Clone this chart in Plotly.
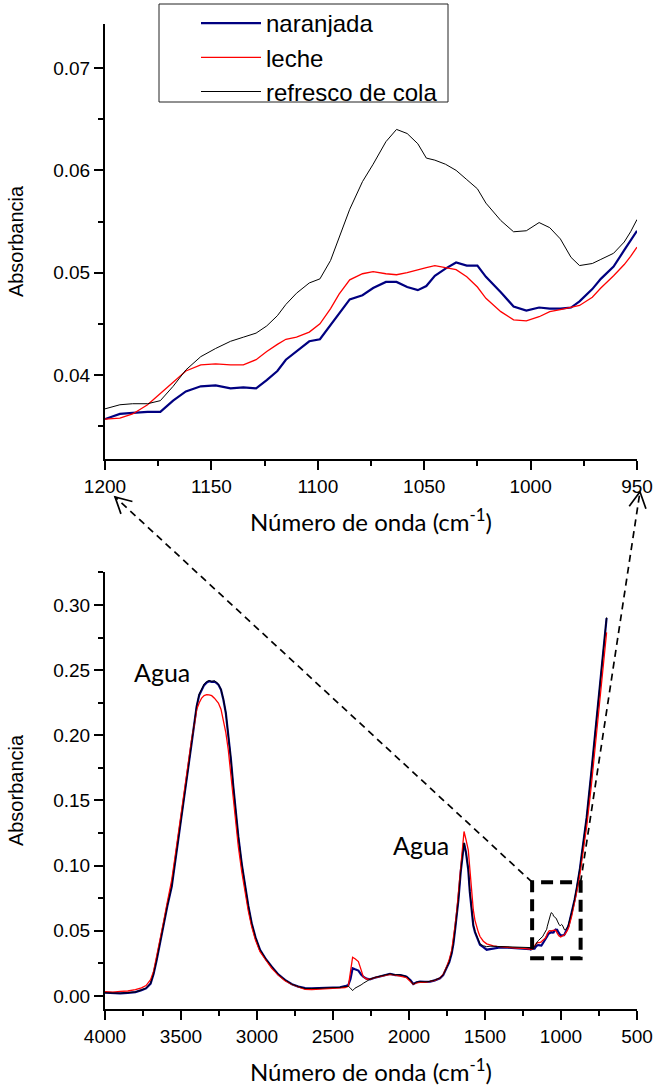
import math
import plotly.graph_objects as go

# ---------------------------------------------------------------------------
# FTIR spectra: naranjada, leche, refresco de cola
# ---------------------------------------------------------------------------

# Detail region 1200-950 cm-1 (upper panel, also part of the full spectrum)
wn_detail = [1200, 1193, 1187, 1180, 1174, 1168, 1162, 1155, 1148, 1141, 1135,
             1129, 1124, 1119, 1115, 1110, 1104, 1099, 1094, 1090, 1085, 1079,
             1074, 1068, 1063, 1058, 1053, 1049, 1045, 1040, 1035, 1030, 1025,
             1021, 1014, 1008, 1002, 996, 991, 986, 981, 977, 971, 967, 961,
             956, 953, 950]
naranjada_detail = [0.0357, 0.0362, 0.0363, 0.0364, 0.0364, 0.0375, 0.0384, 0.0389,
                    0.0390, 0.0387, 0.0388, 0.0387, 0.0395, 0.0404, 0.0415, 0.0423,
                    0.0433, 0.0435, 0.0449, 0.0461, 0.0474, 0.0478, 0.0485, 0.0491,
                    0.0491, 0.0486, 0.0483, 0.0487, 0.0497, 0.0504, 0.0510, 0.0507,
                    0.0507, 0.0496, 0.0481, 0.0467, 0.0463, 0.0466, 0.0465, 0.0465,
                    0.0466, 0.0472, 0.0484, 0.0494, 0.0506, 0.0522, 0.0531, 0.0541]
leche_detail = [0.0357, 0.0358, 0.0362, 0.0371, 0.0382, 0.0393, 0.0404, 0.0410,
                0.0411, 0.0410, 0.0410, 0.0415, 0.0423, 0.0430, 0.0435, 0.0437,
                0.0442, 0.0450, 0.0465, 0.0479, 0.0493, 0.0499, 0.0501, 0.0499,
                0.0498, 0.0500, 0.0503, 0.0505, 0.0507, 0.0505, 0.0503, 0.0496,
                0.0486, 0.0475, 0.0462, 0.0454, 0.0453, 0.0457, 0.0462, 0.0464,
                0.0466, 0.0468, 0.0476, 0.0485, 0.0497, 0.0508, 0.0516, 0.0525]
cola_detail = [0.0367, 0.0371, 0.0372, 0.0372, 0.0375, 0.0389, 0.0405, 0.0418,
               0.0426, 0.0433, 0.0437, 0.0441, 0.0448, 0.0458, 0.0469, 0.0480,
               0.0490, 0.0494, 0.0512, 0.0535, 0.0562, 0.0589, 0.0606, 0.0628,
               0.0640, 0.0636, 0.0626, 0.0612, 0.0610, 0.0606, 0.0600, 0.0591,
               0.0582, 0.0568, 0.0551, 0.0540, 0.0541, 0.0549, 0.0544, 0.0533,
               0.0515, 0.0507, 0.0509, 0.0513, 0.0519, 0.0530, 0.0540, 0.0552]

# Full spectrum above the detail region (4000-1204 cm-1)
wn_high = [4000, 3950, 3900, 3850, 3800, 3760, 3730, 3700, 3680, 3660, 3640, 3616,
           3590, 3561, 3540, 3518, 3496, 3474, 3452, 3430, 3410, 3397, 3380, 3364,
           3348, 3331, 3315, 3298, 3280, 3265, 3254, 3237, 3221, 3205, 3189, 3172,
           3156, 3140, 3123, 3100, 3079, 3057, 3035, 3010, 2980, 2940, 2903, 2860,
           2816, 2770, 2728, 2684, 2640, 2586, 2540, 2490, 2454, 2420, 2399, 2385,
           2371, 2355, 2333, 2315, 2301, 2280, 2257, 2225, 2191, 2160, 2125, 2090,
           2059, 2030, 2016, 1990, 1972, 1950, 1928, 1895, 1862, 1830, 1796, 1775,
           1752, 1735, 1719, 1708, 1697, 1686, 1675, 1660, 1650, 1638, 1625, 1610,
           1600, 1588, 1577, 1566, 1555, 1544, 1533, 1511, 1489, 1467, 1445, 1420,
           1401, 1350, 1292, 1250, 1204]
naranjada_high = [0.0025, 0.0022, 0.0020, 0.0024, 0.0030, 0.0045, 0.0058, 0.0095,
                  0.0170, 0.0276, 0.0400, 0.0532, 0.0690, 0.0840, 0.1010, 0.1198,
                  0.1375, 0.1557, 0.1750, 0.1941, 0.2110, 0.2222, 0.2310, 0.2350,
                  0.2385, 0.2406, 0.2415, 0.2410, 0.2412, 0.2400, 0.2389, 0.2350,
                  0.2273, 0.2170, 0.2018, 0.1820, 0.1608, 0.1410, 0.1224, 0.1010,
                  0.0840, 0.0690, 0.0558, 0.0450, 0.0353, 0.0280, 0.0225, 0.0165,
                  0.0123, 0.0090, 0.0072, 0.0060, 0.0058, 0.0059, 0.0063, 0.0061,
                  0.0067, 0.0075, 0.0084, 0.0130, 0.0213, 0.0205, 0.0195, 0.0165,
                  0.0148, 0.0133, 0.0128, 0.0140, 0.0148, 0.0155, 0.0169, 0.0160,
                  0.0161, 0.0152, 0.0148, 0.0120, 0.0092, 0.0105, 0.0110, 0.0108,
                  0.0110, 0.0120, 0.0136, 0.0160, 0.0212, 0.0260, 0.0328, 0.0400,
                  0.0507, 0.0610, 0.0737, 0.0950, 0.1080, 0.1173, 0.1100, 0.0968,
                  0.0800, 0.0637, 0.0540, 0.0490, 0.0456, 0.0420, 0.0392, 0.0375,
                  0.0355, 0.0360, 0.0365, 0.0370, 0.0372, 0.0370, 0.0368, 0.0365,
                  0.0360]
leche_high = [0.0033, 0.0030, 0.0035, 0.0038, 0.0048, 0.0062, 0.0080, 0.0125,
              0.0190, 0.0300, 0.0430, 0.0560, 0.0720, 0.0891, 0.1060, 0.1250,
              0.1430, 0.1610, 0.1790, 0.1970, 0.2100, 0.2197, 0.2250, 0.2286,
              0.2305, 0.2312, 0.2310, 0.2304, 0.2285, 0.2265, 0.2248, 0.2200,
              0.2120, 0.2020, 0.1889, 0.1700, 0.1505, 0.1320, 0.1147, 0.0950,
              0.0789, 0.0650, 0.0533, 0.0430, 0.0340, 0.0270, 0.0212, 0.0160,
              0.0118, 0.0088, 0.0072, 0.0051, 0.0048, 0.0052, 0.0055, 0.0058,
              0.0060, 0.0065, 0.0075, 0.0180, 0.0297, 0.0285, 0.0264, 0.0200,
              0.0148, 0.0130, 0.0128, 0.0140, 0.0150, 0.0158, 0.0165, 0.0160,
              0.0155, 0.0145, 0.0140, 0.0110, 0.0090, 0.0100, 0.0105, 0.0105,
              0.0110, 0.0120, 0.0138, 0.0165, 0.0225, 0.0280, 0.0350, 0.0430,
              0.0540, 0.0650, 0.0790, 0.1000, 0.1150, 0.1262, 0.1200, 0.1120,
              0.0980, 0.0820, 0.0660, 0.0580, 0.0530, 0.0490, 0.0456, 0.0420,
              0.0400, 0.0390, 0.0385, 0.0380, 0.0379, 0.0372, 0.0368, 0.0365,
              0.0358]
cola_high = [0.0025, 0.0023, 0.0021, 0.0025, 0.0031, 0.0046, 0.0060, 0.0096,
             0.0172, 0.0278, 0.0402, 0.0534, 0.0692, 0.0842, 0.1012, 0.1200,
             0.1378, 0.1560, 0.1752, 0.1944, 0.2114, 0.2226, 0.2316, 0.2356,
             0.2392, 0.2412, 0.2420, 0.2414, 0.2418, 0.2405, 0.2393, 0.2354,
             0.2277, 0.2174, 0.2022, 0.1824, 0.1612, 0.1414, 0.1228, 0.1014,
             0.0844, 0.0692, 0.0560, 0.0452, 0.0355, 0.0281, 0.0226, 0.0166,
             0.0124, 0.0090, 0.0072, 0.0058, 0.0057, 0.0058, 0.0062, 0.0060,
             0.0066, 0.0072, 0.0075, 0.0060, 0.0041, 0.0060, 0.0072, 0.0085,
             0.0097, 0.0115, 0.0128, 0.0142, 0.0150, 0.0158, 0.0170, 0.0162,
             0.0163, 0.0154, 0.0150, 0.0118, 0.0090, 0.0106, 0.0110, 0.0108,
             0.0112, 0.0122, 0.0138, 0.0162, 0.0214, 0.0262, 0.0330, 0.0402,
             0.0508, 0.0612, 0.0738, 0.0952, 0.1082, 0.1175, 0.1102, 0.0970,
             0.0802, 0.0640, 0.0545, 0.0495, 0.0462, 0.0428, 0.0400, 0.0385,
             0.0378, 0.0382, 0.0383, 0.0380, 0.0379, 0.0376, 0.0373, 0.0370,
             0.0368]

# Full spectrum below the detail region (930-700 cm-1)
wn_low = [930, 910, 897, 885, 875, 864, 853, 831, 800, 776, 750, 725, 700]
naranjada_low = [0.0630, 0.0740, 0.0820, 0.0900, 0.0980, 0.1080, 0.1180, 0.1370,
                 0.1720, 0.2000, 0.2300, 0.2600, 0.2900]
leche_low = [0.0610, 0.0715, 0.0790, 0.0865, 0.0940, 0.1030, 0.1120, 0.1300,
             0.1620, 0.1900, 0.2180, 0.2480, 0.2790]
cola_low = [0.0640, 0.0745, 0.0825, 0.0905, 0.0985, 0.1085, 0.1185, 0.1375,
            0.1725, 0.2005, 0.2305, 0.2605, 0.2905]

series = [
    ("naranjada", "#000080", 2.2, naranjada_high, naranjada_detail, naranjada_low),
    ("leche", "#ff0000", 1.3, leche_high, leche_detail, leche_low),
    ("refresco de cola", "#000000", 1.0, cola_high, cola_detail, cola_low),
]

# Figure geometry (pixels)
W, H = 654, 1090
AX_L, AX_R = 105, 637
TOP_T, TOP_B = 24, 459
BOT_T, BOT_B = 572, 1009

TOP_XR = [1200, 950]
TOP_YR = [0.0318, 0.0743]
BOT_XR = [4000, 500]
BOT_YR = [-0.01, 0.3253]


def px_to_paper(x, y):
    return x / W, 1 - y / H


def data_to_px(x, y, xr, yr, top, bottom):
    fx = (x - xr[0]) / (xr[1] - xr[0])
    fy = (y - yr[0]) / (yr[1] - yr[0])
    return AX_L + fx * (AX_R - AX_L), bottom - fy * (bottom - top)


fig = go.Figure()

wn_full = wn_high + wn_detail + wn_low
for name, color, width, hi, det, lo in series:
    fig.add_trace(go.Scatter(
        x=wn_detail, y=det, mode="lines", name=name,
        line=dict(color=color, width=width),
        xaxis="x", yaxis="y", legendgroup=name, showlegend=True))
for name, color, width, hi, det, lo in series:
    fig.add_trace(go.Scatter(
        x=wn_full, y=hi + det + lo, mode="lines", name=name,
        line=dict(color=color, width=width),
        xaxis="x2", yaxis="y2", legendgroup=name, showlegend=False))

tick_font = dict(family="Liberation Sans, Arial, sans-serif", size=19, color="black")
ytitle_font = dict(family="Liberation Sans, Arial, sans-serif", size=20, color="black")
xtitle_font = dict(family="Lato, sans-serif", size=24, color="black")


def axis(**kw):
    base = dict(showline=True, linecolor="black", linewidth=2, ticks="outside",
                ticklen=9, tickwidth=2, tickcolor="black", showgrid=False,
                zeroline=False, tickfont=tick_font, automargin=False)
    base.update(kw)
    return base


xlabel = "Número de onda (cm<sup>-1</sup>)"

fig.update_layout(
    width=W, height=H,
    margin=dict(l=0, r=0, t=0, b=0),
    paper_bgcolor="white", plot_bgcolor="white",
    xaxis=axis(domain=[AX_L / W, AX_R / W], anchor="y", range=TOP_XR,
               tick0=1200, dtick=50,
               minor=dict(dtick=25, ticks="outside", ticklen=5, tickwidth=2,
                          tickcolor="black"),
               title=dict(text=xlabel, font=xtitle_font, standoff=18)),
    yaxis=axis(domain=[1 - TOP_B / H, 1 - TOP_T / H], anchor="x", range=TOP_YR,
               tick0=0, dtick=0.01, tickformat=".2f",
               minor=dict(dtick=0.005, ticks="outside", ticklen=5, tickwidth=2,
                          tickcolor="black"),
               title=dict(text="Absorbancia", font=ytitle_font, standoff=24)),
    xaxis2=axis(domain=[AX_L / W, AX_R / W], anchor="y2", range=BOT_XR,
                tick0=0, dtick=500,
                minor=dict(dtick=250, ticks="outside", ticklen=5, tickwidth=2,
                           tickcolor="black"),
                title=dict(text=xlabel, font=xtitle_font, standoff=18)),
    yaxis2=axis(domain=[1 - BOT_B / H, 1 - BOT_T / H], anchor="x2", range=BOT_YR,
                tick0=0, dtick=0.05, tickformat=".2f",
                minor=dict(dtick=0.025, ticks="outside", ticklen=5, tickwidth=2,
                           tickcolor="black"),
                title=dict(text="Absorbancia", font=ytitle_font, standoff=24)),
    legend=dict(x=196 / W, y=1 - 1 / H, xanchor="left", yanchor="top",
                bgcolor="rgba(0,0,0,0)", borderwidth=0,
                font=dict(family="Liberation Sans, Arial, sans-serif", size=24,
                          color="black"),
                itemwidth=60, tracegroupgap=0),
    showlegend=True,
)

# Legend frame
lx0, ly0 = px_to_paper(159, 4)
lx1, ly1 = px_to_paper(448, 102)
fig.add_shape(type="rect", xref="paper", yref="paper",
              x0=lx0, x1=lx1, y0=ly1, y1=ly0,
              fillcolor="white", line=dict(color="#222222", width=1))

# Water band labels
agua_font = dict(family="Lato, sans-serif", size=25, color="black")
fig.add_annotation(x=3625, y=0.2487, xref="x2", yref="y2", text="Agua",
                   showarrow=False, font=agua_font)
fig.add_annotation(x=1921, y=0.116, xref="x2", yref="y2", text="Agua",
                   showarrow=False, font=agua_font)

# Dashed box marking the expanded 1200-950 cm-1 region
box_x = [1190, 871]
box_y = [0.029, 0.0873]
fig.add_shape(type="rect", xref="x2", yref="y2",
              x0=box_x[0], x1=box_x[1], y0=box_y[0], y1=box_y[1],
              line=dict(color="black", width=4, dash="12px,7px"))

# Connectors from the box to the ends of the upper x-axis
corner_l = data_to_px(box_x[0], box_y[1], BOT_XR, BOT_YR, BOT_T, BOT_B)
corner_r = data_to_px(box_x[1], box_y[1], BOT_XR, BOT_YR, BOT_T, BOT_B)
tip_l = data_to_px(1195.3, 0.0281, TOP_XR, TOP_YR, TOP_T, TOP_B)
tip_r = data_to_px(948.6, 0.0286, TOP_XR, TOP_YR, TOP_T, TOP_B)


def connector(start, tip):
    x0, y0 = px_to_paper(*start)
    x1, y1 = px_to_paper(*tip)
    fig.add_shape(type="line", xref="paper", yref="paper",
                  x0=x0, y0=y0, x1=x1, y1=y1,
                  line=dict(color="black", width=1.7, dash="7px,5px"))
    # open arrowhead
    dx, dy = start[0] - tip[0], start[1] - tip[1]
    n = (dx * dx + dy * dy) ** 0.5
    ux, uy = dx / n, dy / n
    pts = []
    for ang in (math.radians(28), math.radians(-28)):
        ca, sa = math.cos(ang), math.sin(ang)
        rx, ry = ux * ca - uy * sa, ux * sa + uy * ca
        pts.append((tip[0] + 18 * rx, tip[1] + 18 * ry))
    a = px_to_paper(*pts[0])
    t = px_to_paper(*tip)
    b = px_to_paper(*pts[1])
    path = f"M {a[0]},{a[1]} L {t[0]},{t[1]} L {b[0]},{b[1]}"
    fig.add_shape(type="path", xref="paper", yref="paper", path=path,
                  line=dict(color="black", width=1.7))


connector(corner_l, tip_l)
connector(corner_r, tip_r)

fig.write_html("out.html")
